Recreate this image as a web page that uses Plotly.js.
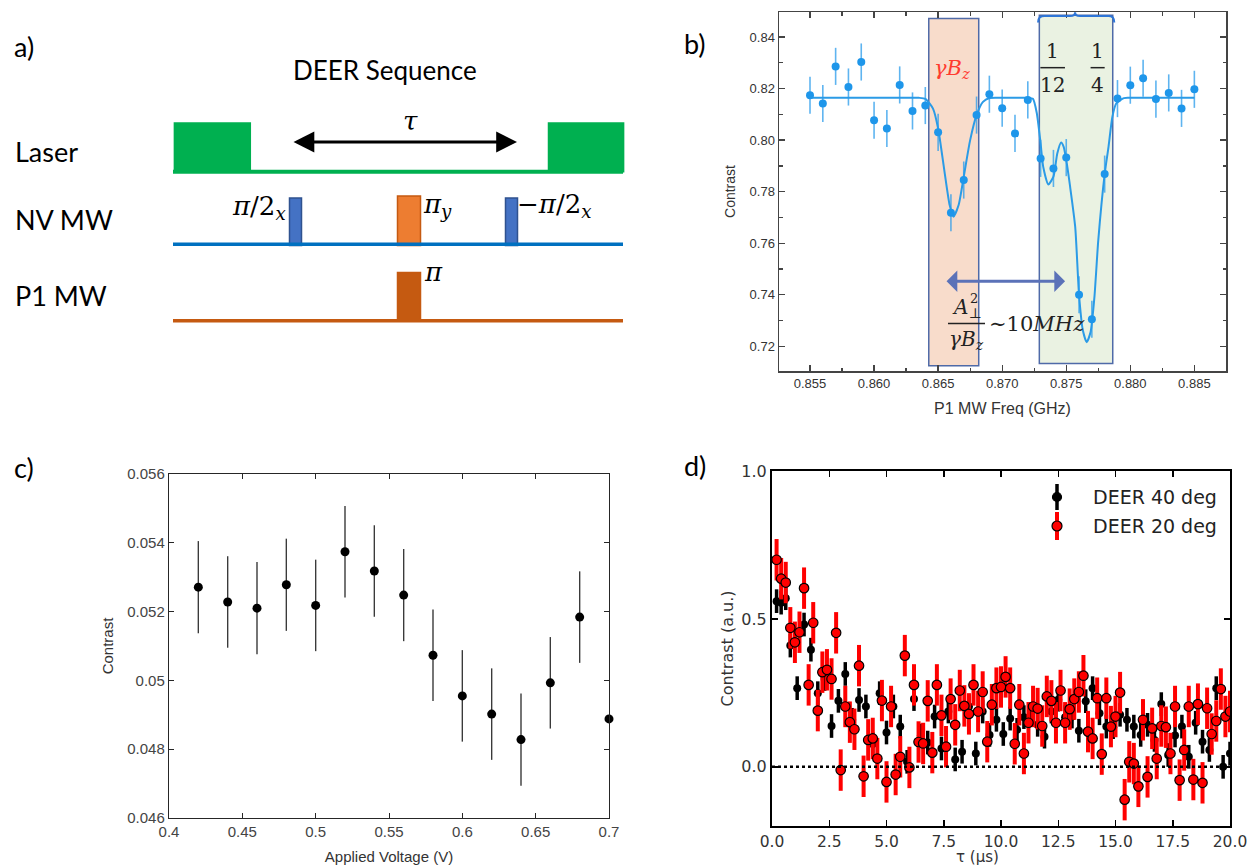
<!DOCTYPE html>
<html>
<head>
<meta charset="utf-8">
<script src="https://cdn.plot.ly/plotly-3.0.1.min.js"></script>
<style>
  html, body { margin: 0; padding: 0; background: #ffffff; }
  #fig { width: 1251px; height: 867px; }
</style>
</head>
<body>
<div id="fig"></div>
<script>
// ---------- (b) P1 DEER spectrum ----------
const freqGHz = [0.855, 0.856, 0.857, 0.858, 0.859, 0.860, 0.861, 0.862, 0.863, 0.864,
                 0.865, 0.866, 0.867, 0.868, 0.869, 0.870, 0.871, 0.872, 0.873, 0.874,
                 0.875, 0.876, 0.877, 0.878, 0.879, 0.880, 0.881, 0.882, 0.883, 0.884, 0.885];
const specContrast = [0.8174, 0.8142, 0.8286, 0.8206, 0.8303, 0.8077, 0.8045, 0.8214, 0.8113, 0.8134,
                      0.8030, 0.7718, 0.7845, 0.8097, 0.8178, 0.8124, 0.8026, 0.8156, 0.7929, 0.7890,
                      0.7932, 0.7400, 0.7305, 0.7868, 0.8161, 0.8213, 0.8240, 0.8159, 0.8183, 0.8123, 0.8197];
const specErr = 0.0072;
const fitFreq = [0.8550, 0.8600, 0.8635, 0.8640, 0.8646, 0.8650, 0.8655, 0.8659, 0.8662, 0.8666,
                 0.8670, 0.8675, 0.8680, 0.8685, 0.8690, 0.8700, 0.8720, 0.8724, 0.8727, 0.8730,
                 0.8732, 0.8736, 0.8740, 0.8743, 0.8746, 0.8748, 0.8750, 0.8753, 0.8757, 0.8760,
                 0.8763, 0.8766, 0.8769, 0.8772, 0.8775, 0.8780, 0.8783, 0.8786, 0.8789, 0.8795,
                 0.8800, 0.8850];
const fitContrast = [0.8164, 0.8164, 0.8164, 0.8160, 0.8122, 0.8045, 0.7877, 0.7748, 0.7703, 0.7748,
                     0.7858, 0.8000, 0.8097, 0.8148, 0.8163, 0.8164, 0.8164, 0.8160, 0.8105, 0.7987,
                     0.7897, 0.7828, 0.7858, 0.7948, 0.7991, 0.7974, 0.7923, 0.7820, 0.7663, 0.7399,
                     0.7261, 0.7216, 0.7255, 0.7391, 0.7611, 0.7868, 0.7974, 0.8090, 0.8142, 0.8163,
                     0.8164, 0.8164];

// ---------- (c) contrast vs applied voltage ----------
const voltage = [0.42, 0.44, 0.46, 0.48, 0.50, 0.52, 0.54, 0.56, 0.58, 0.60, 0.62, 0.64, 0.66, 0.68, 0.70];
const voltContrast = [0.05271, 0.05228, 0.05210, 0.05278, 0.05218, 0.05374, 0.05318, 0.05248,
                      0.05073, 0.04955, 0.04902, 0.04828, 0.04993, 0.05184, 0.04888];
const voltErr = [0.00134, 0.00133, 0.00134, 0.00134, 0.00133, 0.00133, 0.00133, 0.00134,
                 0.00133, 0.00133, 0.00133, 0.00134, 0.00133, 0.00133, 0];

// ---------- (d) DEER decay ----------
const tau40 = [0.2, 0.4, 0.6, 0.8, 1.1, 1.4, 1.7, 2.0, 2.3, 2.6, 2.9, 3.2, 3.5, 3.8, 4.1, 4.4, 4.7,
               5.0, 5.3, 5.6, 5.9, 6.2, 6.5, 6.8, 7.1, 7.4, 7.7, 8.0, 8.3, 8.6, 8.9, 9.2, 9.5, 9.8,
               10.1, 10.4, 10.7, 11.0, 11.3, 11.6, 11.9, 12.2, 12.5, 12.8, 13.1, 13.4, 13.7, 14.0,
               14.3, 14.6, 14.9, 15.2, 15.5, 15.8, 16.1, 16.4, 16.7, 17.0, 17.3, 17.6, 17.9, 18.2,
               18.5, 18.8, 19.1, 19.4, 19.7, 20.0];
const deer40 = [0.560, 0.555, 0.570, 0.410, 0.266, 0.481, 0.396, 0.249, 0.297, 0.138, 0.223, 0.314,
                0.159, 0.226, 0.204, 0.077, 0.249, 0.116, 0.204, 0.136, 0.017, 0.229, 0.106, 0.082,
                0.170, 0.062, 0.187, 0.025, 0.051, 0.204, 0.045, 0.187, 0.108, 0.159, 0.111, 0.163,
                0.125, 0.168, 0.176, 0.142, 0.102, 0.187, 0.227, 0.168, 0.170, 0.122, 0.222, 0.266,
                0.181, 0.136, 0.134, 0.176, 0.159, 0.136, 0.108, 0.142, 0.091, 0.212, 0.040, 0.106,
                0.136, 0.034, 0.149, 0.085, 0.057, 0.266, 0.000, 0.045];
const err40 = 0.04;
const tau20 = [0.2, 0.4, 0.6, 0.8, 1.0, 1.2, 1.4, 1.6, 1.8, 2.0, 2.2, 2.4, 2.6, 2.8, 3.0, 3.2, 3.4,
               3.6, 3.8, 4.0, 4.2, 4.4, 4.6, 4.8, 5.0, 5.2, 5.4, 5.6, 5.8, 6.0, 6.2, 6.4, 6.6, 6.8,
               7.0, 7.2, 7.4, 7.6, 7.8, 8.0, 8.2, 8.4, 8.6, 8.8, 9.0, 9.2, 9.4, 9.6, 9.8, 10.0,
               10.2, 10.4, 10.6, 10.8, 11.0, 11.2, 11.4, 11.6, 11.8, 12.0, 12.2, 12.4, 12.6, 12.8,
               13.0, 13.2, 13.4, 13.6, 13.8, 14.0, 14.2, 14.4, 14.6, 14.8, 15.0, 15.2, 15.4, 15.6,
               15.8, 16.0, 16.2, 16.4, 16.6, 16.8, 17.0, 17.2, 17.4, 17.6, 17.8, 18.0, 18.2, 18.4,
               18.6, 18.8, 19.0, 19.2, 19.4, 19.6, 19.8, 20.0];
const deer20 = [0.700, 0.636, 0.623, 0.470, 0.421, 0.455, 0.604, 0.277, 0.487, 0.190, 0.320, 0.328,
                0.297, 0.453, -0.011, 0.204, 0.151, 0.127, 0.342, -0.032, 0.091, 0.096, 0.028, 0.224,
                -0.051, 0.204, -0.026, 0.034, 0.376, -0.002, 0.277, 0.084, 0.079, 0.223, 0.048, 0.277,
                0.174, 0.068, 0.229, 0.142, 0.258, 0.206, 0.179, 0.277, 0.187, 0.253, 0.085, 0.210,
                0.266, 0.270, 0.304, 0.266, 0.078, 0.210, 0.045, 0.149, 0.204, 0.197, 0.138, 0.238,
                0.223, 0.149, 0.258, 0.149, 0.195, 0.229, 0.253, 0.308, 0.119, 0.096, 0.232, 0.043,
                0.232, 0.136, 0.170, 0.251, -0.111, 0.017, 0.011, -0.066, 0.159, -0.034, 0.130, 0.028,
                0.138, 0.134, 0.045, 0.204, -0.045, 0.057, 0.204, -0.043, 0.212, -0.054, 0.198, 0.111,
                0.155, 0.263, 0.170, 0.187];
const err20 = 0.07;
const seriesNames = ['DEER 40 deg', 'DEER 20 deg'];

// ---------- (a) pulse-sequence schematic (drawing units) ----------
const seqStart = 173, seqEnd = 623;
const channels = [
  { name: 'Laser', base: 171.7, color: '#00b050', width: 4 },
  { name: 'NV MW', base: 244.3, color: '#0070c0', width: 3.5 },
  { name: 'P1 MW', base: 320.7, color: '#c55a11', width: 3.5 }
];
const pulses = [
  { x0: 174.4, x1: 250.3, top: 123, base: 171.7, fill: '#00b050', edge: '#00b050' },
  { x0: 548.5, x1: 623.6, top: 123, base: 171.7, fill: '#00b050', edge: '#00b050' },
  { x0: 289.5, x1: 301.5, top: 198, base: 245.5, fill: '#4472c4', edge: '#2f528f' },
  { x0: 397.5, x1: 420.5, top: 196, base: 245.5, fill: '#ed7d31', edge: '#c55a11' },
  { x0: 505.5, x1: 517.5, top: 198, base: 245.5, fill: '#4472c4', edge: '#2f528f' },
  { x0: 397.5, x1: 420.5, top: 272.5, base: 320.7, fill: '#c55a11', edge: '#c55a11' }
];

const W = 1251, H = 867;
const px = v => v / W;
const py = v => 1 - v / H;

const shapes = [];
const annotations = [];

// schematic: baselines and pulses
pulses.forEach(p => shapes.push({
  type: 'rect', xref: 'x', yref: 'y', x0: p.x0, x1: p.x1, y0: p.base, y1: p.top,
  fillcolor: p.fill, line: { color: p.edge, width: 1.5 }, layer: 'above'
}));
channels.forEach(c => shapes.push({
  type: 'line', xref: 'x', yref: 'y', x0: seqStart, x1: seqEnd, y0: c.base, y1: c.base,
  line: { color: c.color, width: c.width }, layer: 'above'
}));
const serif = 'DejaVu Serif, Liberation Serif, serif';
const sans = 'Lato, Open Sans, sans-serif';
annotations.push(
  { xref: 'x', yref: 'y', x: 517, y: 142, ax: 292, ay: 142, axref: 'x', ayref: 'y',
    text: '', showarrow: true, arrowhead: 2, arrowside: 'end+start', arrowsize: 1.3,
    arrowwidth: 3.2, arrowcolor: '#000000' },
  { xref: 'x', yref: 'y', x: 410, y: 121, text: '<i>τ</i>', showarrow: false,
    font: { family: serif, size: 26, color: '#000' } },
  { xref: 'x', yref: 'y', x: 385, y: 70, text: 'DEER Sequence', showarrow: false,
    font: { family: sans, size: 26, color: '#000' } },
  { xref: 'x', yref: 'y', x: 288, y: 207, xanchor: 'right', text: '<i>π</i>/2<sub><i>x</i></sub>',
    showarrow: false, font: { family: serif, size: 26, color: '#000' } },
  { xref: 'x', yref: 'y', x: 421, y: 205, xanchor: 'left', text: '<i>π</i><sub><i>y</i></sub>',
    showarrow: false, font: { family: serif, size: 26, color: '#000' } },
  { xref: 'x', yref: 'y', x: 515, y: 205, xanchor: 'left', text: '−<i>π</i>/2<sub><i>x</i></sub>',
    showarrow: false, font: { family: serif, size: 26, color: '#000' } },
  { xref: 'x', yref: 'y', x: 422, y: 272, xanchor: 'left', text: '<i>π</i>',
    showarrow: false, font: { family: serif, size: 26, color: '#000' } }
);
channels.forEach(c => annotations.push({
  xref: 'x', yref: 'y', x: 13, y: c.base - (c.name === 'Laser' ? 20 : 25), xanchor: 'left',
  text: c.name, showarrow: false, font: { family: sans, size: 27, color: '#000' }
}));

// panel letters
[['a)', 12, 28], ['b)', 682, 25], ['c)', 12, 467], ['d)', 682, 465]].forEach(l => annotations.push({
  xref: 'paper', yref: 'paper', x: px(l[1]), y: py(l[2]), xanchor: 'left', text: l[0], showarrow: false,
  font: { family: sans, size: 27, color: '#000' }
}));

// (b) shaded windows, brace, arrow and labels
const boxEdge = '#4f6aa8';
shapes.push(
  { type: 'rect', xref: 'x2', yref: 'y2', x0: 0.86427, x1: 0.86817, y0: 0.7124, y1: 0.8472,
    fillcolor: '#f8dccb', line: { color: boxEdge, width: 1.5 }, layer: 'below' },
  { type: 'rect', xref: 'x2', yref: 'y2', x0: 0.87290, x1: 0.87863, y0: 0.7133, y1: 0.8484,
    fillcolor: '#eaf2e2', line: { color: boxEdge, width: 1.5 }, layer: 'below' },
  { type: 'path', xref: 'x2', yref: 'y2', layer: 'above',
    path: 'M 0.87280 0.8456 Q 0.87280 0.8481 0.87330 0.8481 L 0.87530 0.8481 Q 0.87569 0.8481 0.87569 0.8496 ' +
          'Q 0.87569 0.8481 0.87608 0.8481 L 0.87830 0.8481 Q 0.87875 0.8481 0.87875 0.8456',
    line: { color: '#2e75d6', width: 2 } },
  { type: 'line', xref: 'x2', yref: 'y2', x0: 0.87298, x1: 0.87490, y0: 0.8281, y1: 0.8281,
    line: { color: '#222', width: 1.5 } },
  { type: 'line', xref: 'x2', yref: 'y2', x0: 0.87690, x1: 0.87800, y0: 0.8281, y1: 0.8281,
    line: { color: '#222', width: 1.5 } },
  { type: 'line', xref: 'x2', yref: 'y2', x0: 0.86577, x1: 0.86866, y0: 0.72884, y1: 0.72884,
    line: { color: '#222', width: 1.5 } }
);
annotations.push(
  { xref: 'x2', yref: 'y2', x: 0.87491, y: 0.7452, ax: 0.86554, ay: 0.7452, axref: 'x2', ayref: 'y2',
    text: '', showarrow: true, arrowhead: 1, arrowside: 'end+start', arrowsize: 1.2,
    arrowwidth: 3, arrowcolor: '#5b72b8' },
  { xref: 'x2', yref: 'y2', x: 0.86609, y: 0.8276, text: '<i>γB</i><sub><i>z</i></sub>', showarrow: false,
    font: { family: serif, size: 21, color: '#ff3b30' } },
  { xref: 'x2', yref: 'y2', x: 0.87394, y: 0.8345, text: '1', showarrow: false,
    font: { family: serif, size: 20, color: '#222' } },
  { xref: 'x2', yref: 'y2', x: 0.87394, y: 0.8214, text: '12', showarrow: false,
    font: { family: serif, size: 20, color: '#222' } },
  { xref: 'x2', yref: 'y2', x: 0.87745, y: 0.8345, text: '1', showarrow: false,
    font: { family: serif, size: 20, color: '#222' } },
  { xref: 'x2', yref: 'y2', x: 0.87745, y: 0.8214, text: '4', showarrow: false,
    font: { family: serif, size: 20, color: '#222' } },
  { xref: 'x2', yref: 'y2', x: 0.86726, y: 0.7350, text: '<i>A</i><sub>⊥</sub>', showarrow: false,
    font: { family: serif, size: 20, color: '#222' } },
  { xref: 'x2', yref: 'y2', x: 0.86780, y: 0.7385, text: '2', showarrow: false,
    font: { family: serif, size: 13, color: '#222' } },
  { xref: 'x2', yref: 'y2', x: 0.86721, y: 0.7223, text: '<i>γB</i><sub><i>z</i></sub>', showarrow: false,
    font: { family: serif, size: 20, color: '#222' } },
  { xref: 'x2', yref: 'y2', x: 0.86880, y: 0.7288, xanchor: 'left', text: '∼10<i>MHz</i>', showarrow: false,
    font: { family: serif, size: 21, color: '#222' } }
);

// (d) zero reference line
shapes.push({ type: 'line', xref: 'x4', yref: 'y4', x0: 0, x1: 20, y0: 0, y1: 0,
  line: { color: '#000', width: 2.5, dash: 'dot' }, layer: 'above' });

// (d) legend keys: error bar with marker, then label
const dejavu = 'DejaVu Sans, sans-serif';
const legendKeys = [
  { y: 497, bar: '#000', barW: 3.5, half: 13, r: 4.5, fill: '#000', edge: '#000' },
  { y: 526, bar: '#ff0000', barW: 4, half: 14, r: 5, fill: '#ff0000', edge: '#000' }
];
legendKeys.forEach((k, i) => {
  shapes.push(
    { type: 'line', xref: 'paper', yref: 'paper', x0: px(1057), x1: px(1057),
      y0: py(k.y - k.half), y1: py(k.y + k.half), line: { color: k.bar, width: k.barW } },
    { type: 'circle', xref: 'paper', yref: 'paper', x0: px(1057 - k.r), x1: px(1057 + k.r),
      y0: py(k.y + k.r), y1: py(k.y - k.r), fillcolor: k.fill, line: { color: k.edge, width: 1.2 } }
  );
  annotations.push({ xref: 'paper', yref: 'paper', x: px(1091), y: py(k.y), xanchor: 'left',
    text: seriesNames[i], showarrow: false, font: { family: dejavu, size: 19, color: '#222' } });
});
// (d) x-axis title, set just under the tick labels
annotations.push({ xref: 'paper', yref: 'paper', x: px(1001), y: 0, yanchor: 'bottom', yshift: -1,
  text: 'τ (μs)', showarrow: false, font: { family: dejavu, size: 15, color: '#333' } });

const traces = [
  // (b)
  { x: fitFreq, y: fitContrast, xaxis: 'x2', yaxis: 'y2', mode: 'lines', type: 'scatter',
    line: { color: '#2b9be6', width: 2, shape: 'spline', smoothing: 0.6 } },
  { x: freqGHz, y: specContrast, xaxis: 'x2', yaxis: 'y2', mode: 'markers', type: 'scatter',
    marker: { color: '#1e96ea', size: 8 },
    error_y: { type: 'constant', value: specErr, color: 'rgba(40,155,235,0.75)', thickness: 1.6, width: 0 } },
  // (c)
  { x: voltage, y: voltContrast, xaxis: 'x3', yaxis: 'y3', mode: 'markers', type: 'scatter',
    marker: { color: '#000', size: 9 }, cliponaxis: false,
    error_y: { type: 'data', array: voltErr, color: '#3a3a3a', thickness: 1.4, width: 0 } },
  // (d)
  { x: tau40, y: deer40, xaxis: 'x4', yaxis: 'y4', mode: 'markers', type: 'scatter', name: seriesNames[0],
    marker: { color: '#000', size: 8 },
    error_y: { type: 'constant', value: err40, color: '#000', thickness: 3.5, width: 0 } },
  { x: tau20, y: deer20, xaxis: 'x4', yaxis: 'y4', mode: 'markers', type: 'scatter', name: seriesNames[1],
    marker: { color: '#ff0000', size: 9.5, line: { color: '#000', width: 1.2 } },
    error_y: { type: 'constant', value: err20, color: '#ff0000', thickness: 4, width: 0 } }
];

const arial = 'Liberation Sans, Arial, sans-serif';

const layout = {
  width: W, height: H,
  margin: { l: 0, r: 0, t: 0, b: 0 },
  paper_bgcolor: '#ffffff', plot_bgcolor: 'rgba(0,0,0,0)',
  showlegend: false,
  // (a) schematic frame
  xaxis: { domain: [0, px(640)], range: [0, 640], visible: false, fixedrange: true },
  yaxis: { domain: [py(340), 1], range: [340, 0], visible: false, fixedrange: true },
  // (b)
  xaxis2: { domain: [px(779), px(1226)], range: [0.85258, 0.88747], anchor: 'y2',
    tickvals: [0.855, 0.860, 0.865, 0.870, 0.875, 0.880, 0.885], tickformat: '.3f',
    ticks: 'inside', ticklen: 6, tickwidth: 1.3, tickcolor: '#444', mirror: 'allticks',
    showline: true, linecolor: '#444', linewidth: 1.5, showgrid: false, zeroline: false,
    minor: { ticks: 'inside', ticklen: 3.5, dtick: 0.0025, tick0: 0.855, tickcolor: '#444', tickwidth: 1.3, showgrid: false },
    tickfont: { family: arial, size: 13, color: '#333' },
    title: { text: 'P1 MW Freq (GHz)', font: { family: arial, size: 16, color: '#333' }, standoff: 12 } },
  yaxis2: { domain: [py(371), py(12)], range: [0.7104, 0.8497], anchor: 'x2',
    tickvals: [0.72, 0.74, 0.76, 0.78, 0.80, 0.82, 0.84], tickformat: '.2f',
    ticks: 'inside', ticklen: 6, tickwidth: 1.3, tickcolor: '#444', mirror: 'allticks',
    showline: true, linecolor: '#444', linewidth: 1.5, showgrid: false, zeroline: false,
    minor: { ticks: 'inside', ticklen: 3.5, dtick: 0.01, tick0: 0.72, tickcolor: '#444', tickwidth: 1.3, showgrid: false },
    tickfont: { family: arial, size: 13, color: '#333' },
    title: { text: 'Contrast', font: { family: arial, size: 14, color: '#333' }, standoff: 10 } },
  // (c)
  xaxis3: { domain: [px(169), px(609)], range: [0.4, 0.7], anchor: 'y3',
    tickvals: [0.4, 0.45, 0.5, 0.55, 0.6, 0.65, 0.7],
    ticks: 'inside', ticklen: 5, tickwidth: 1, tickcolor: '#262626', mirror: 'allticks',
    showline: true, linecolor: '#262626', linewidth: 1.2, showgrid: false, zeroline: false,
    tickfont: { family: arial, size: 15, color: '#444' },
    title: { text: 'Applied Voltage (V)', font: { family: arial, size: 15, color: '#333' }, standoff: 12 } },
  yaxis3: { domain: [py(818), py(474)], range: [0.046, 0.056], anchor: 'x3',
    tickvals: [0.046, 0.048, 0.05, 0.052, 0.054, 0.056],
    ticks: 'inside', ticklen: 5, tickwidth: 1, tickcolor: '#262626', mirror: 'allticks',
    showline: true, linecolor: '#262626', linewidth: 1.2, showgrid: false, zeroline: false,
    tickfont: { family: arial, size: 15, color: '#444' },
    title: { text: 'Contrast', font: { family: arial, size: 15, color: '#333' }, standoff: 10 } },
  // (d)
  xaxis4: { domain: [px(772), px(1230)], range: [0, 20], anchor: 'y4',
    tickvals: [0, 2.5, 5, 7.5, 10, 12.5, 15, 17.5, 20], tickformat: '.1f',
    ticks: 'inside', ticklen: 6, tickwidth: 1.5, tickcolor: '#000', mirror: 'allticks',
    showline: true, linecolor: '#000', linewidth: 2, showgrid: false, zeroline: false,
    tickfont: { family: dejavu, size: 15.5, color: '#333' } },
  yaxis4: { domain: [py(826), py(471)], range: [-0.2, 1.0], anchor: 'x4',
    tickvals: [0, 0.5, 1.0], tickformat: '.1f',
    ticks: 'inside', ticklen: 6, tickwidth: 1.5, tickcolor: '#000', mirror: 'allticks',
    showline: true, linecolor: '#000', linewidth: 2, showgrid: false, zeroline: false,
    tickfont: { family: dejavu, size: 16, color: '#333' },
    title: { text: 'Contrast (a.u.)', font: { family: dejavu, size: 16, color: '#333' }, standoff: 4 } },
  shapes: shapes,
  annotations: annotations
};

Plotly.newPlot('fig', traces, layout, { displayModeBar: false, staticPlot: true });
</script>
</body>
</html>
